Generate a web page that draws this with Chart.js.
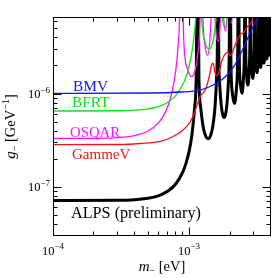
<!DOCTYPE html>
<html><head><meta charset="utf-8">
<style>html,body{margin:0;padding:0;background:#fff;}#wrap{width:274px;height:278px;}</style>
<script src="https://cdn.jsdelivr.net/npm/chart.js@4.4.1/dist/chart.umd.min.js"></script>
</head><body><div id="wrap"><canvas id="c" width="274" height="278"></canvas></div>
<script>
// ---- axis ranges and ticks ----
const massRange = [1e-4, 4e-3];
const couplingRange = [3e-8, 6.7e-6];
const xTickValues = [1e-4,2e-4,3e-4,4e-4,5e-4,6e-4,7e-4,8e-4,9e-4,1e-3,2e-3,3e-3];
const yTickValues = [4e-8,5e-8,6e-8,7e-8,8e-8,9e-8,1e-7,2e-7,3e-7,4e-7,5e-7,6e-7,7e-7,8e-7,9e-7,1e-6,2e-6,3e-6,4e-6,5e-6,6e-6];
const xMajorTicks = [1e-4, 1e-3];
const xMajorLabels = [['10','\u22124'],['10','\u22123']];
const yMajorTicks = [1e-7, 1e-6];
const yMajorLabels = [['10','\u22127'],['10','\u22126']];

// ---- series (mass in eV, coupling in GeV^-1) ----
const bmvMass = [1e-4,5.168e-4,8.588e-4,1.2048e-3,1.427e-3,1.6902e-3,1.9358e-3,2.1424e-3,2.3714e-3,2.5812e-3,2.8093e-3,3.0576e-3,3.3276e-3,3.4996e-3];
const bmvCoupling = [1.0174e-6,1.025e-6,1.0505e-6,1.104e-6,1.2035e-6,1.378e-6,1.6383e-6,1.995e-6,2.618e-6,3.435e-6,4.507e-6,5.768e-6,7.202e-6,8.35e-6];

const bfrtMass = [1e-4,3e-4,5e-4,6e-4,7e-4,8e-4,9e-4,9.5e-4,1e-3,1.05e-3,1.1e-3,1.13e-3,1.173e-3,
  1.2278e-3,1.3139e-3,1.4028e-3,1.4799e-3,1.5497e-3,1.6188e-3,1.6589e-3,
  1.6981e-3,1.7613e-3,1.8394e-3,1.9143e-3,1.9706e-3,2.0317e-3];
const bfrtCoupling = [6.572e-7,6.618e-7,6.943e-7,7.374e-7,8.176e-7,9.662e-7,1.2643e-6,1.535e-6,1.9825e-6,2.829e-6,4.911e-6,8.56e-6,1e-4,
  7.654e-6,3.611e-6,3.025e-6,3.427e-6,5.023e-6,1.331e-5,1e-4,
  1.464e-5,6.489e-6,5.12e-6,7.664e-6,1.97e-5,1e-4];

const osqarMass = [1e-4,2e-4,3e-4,4e-4,5e-4,6e-4,6.5e-4,7e-4,7.5e-4,8e-4,8.3e-4,8.5e-4,8.724e-4,
  9.131e-4,9.772e-4,1.0433e-3,1.1006e-3,1.1525e-3,1.204e-3,1.2338e-3,
  1.2629e-3,1.3099e-3,1.368e-3,1.4237e-3,1.4656e-3,1.5111e-3,
  1.5349e-3,1.5739e-3,1.6321e-3,1.6883e-3,1.7239e-3,1.7448e-3,
  1.7655e-3,1.7995e-3,1.8506e-3,1.9004e-3,1.932e-3,1.9507e-3,
  1.9693e-3,1.9998e-3,2.046e-3,2.0911e-3,2.1199e-3,2.1369e-3];
const osqarCoupling = [3.334e-7,3.349e-7,3.411e-7,3.589e-7,4.008e-7,4.972e-7,5.902e-7,7.493e-7,1.0589e-6,1.8377e-6,3.229e-6,6.27e-6,1e-4,
  3.883e-6,1.8317e-6,1.5346e-6,1.7383e-6,2.548e-6,6.751e-6,1e-4,
  7.428e-6,3.292e-6,2.597e-6,3.888e-6,1.0e-5,1e-4,
  1.097e-5,4.752e-6,3.666e-6,5.468e-6,1.384e-5,1e-4,
  1.4516e-5,6.212e-6,4.713e-6,6.928e-6,1.738e-5,1e-4,
  1.806e-5,7.672e-6,5.761e-6,8.388e-6,2.093e-5,1e-4];

const gammevMass = [1e-4,3.109e-4,4.362e-4,6.122e-4,7.627e-4,9.035e-4,1.0171e-3,1.1069e-3,1.1647e-3,1.225e-3,1.2672e-3,1.3335e-3,1.4031e-3,1.4637e-3,1.5014e-3,1.5531e-3,1.6066e-3,1.6619e-3,1.7482e-3,1.8393e-3,1.9358e-3,2.0023e-3,2.0713e-3,2.179e-3,2.2926e-3,2.4125e-3,2.5376e-3,2.6703e-3,2.8093e-3,2.9554e-3,3.1087e-3,3.2712e-3];
const gammevCoupling = [2.861e-7,2.875e-7,2.947e-7,3.096e-7,3.503e-7,4.112e-7,5.01e-7,6.572e-7,8.209e-7,9.757e-7,1.0249e-6,1.1594e-6,1.5211e-6,2.045e-6,2.149e-6,1.6795e-6,1.5592e-6,1.7642e-6,2.314e-6,2.684e-6,2.82e-6,2.555e-6,2.751e-6,3.35e-6,3.983e-6,4.394e-6,4.618e-6,5.224e-6,5.627e-6,6.365e-6,7.201e-6,8.35e-6];

const alpsMass = [1e-4,3e-4,5e-4,6e-4,7e-4,8e-4,9e-4,9.5e-4,1.0e-3,1.05e-3,1.1e-3,1.13e-3,1.1531e-3,
  1.1818e-3,1.2171e-3,1.2683e-3,1.3173e-3,1.379e-3,1.4401e-3,1.4977e-3,1.5532e-3,1.5936e-3,1.6134e-3,1.6307e-3,
  1.6523e-3,1.684e-3,1.7213e-3,1.7698e-3,1.8082e-3,1.8516e-3,1.8967e-3,1.9408e-3,1.9733e-3,1.9972e-3,
  2.0287e-3,2.0802e-3,2.1573e-3,2.2316e-3,2.2785e-3,2.3062e-3,
  2.3336e-3,2.3785e-3,2.446e-3,2.5119e-3,2.5537e-3,2.5784e-3,
  2.6029e-3,2.6432e-3,2.7043e-3,2.7639e-3,2.8019e-3,2.8245e-3,
  2.8469e-3,2.8838e-3,2.9398e-3,2.9948e-3,3.0299e-3,3.0508e-3,
  3.0716e-3,3.1058e-3,3.1579e-3,3.2091e-3,3.2419e-3,3.2614e-3,
  3.2808e-3,3.3129e-3,3.3618e-3,3.41e-3,3.4409e-3,3.4593e-3,
  3.4776e-3,3.5079e-3,3.5541e-3,3.5997e-3,3.629e-3,3.6464e-3,
  3.6638e-3,3.6925e-3,3.7364e-3,3.7798e-3,3.8077e-3,3.8244e-3,
  3.8409e-3,3.8684e-3,3.9103e-3,3.9518e-3,3.99e-3];
const alpsCoupling = [7.2e-8,7.25e-8,7.64e-8,8.15e-8,9.1e-8,1.091e-7,1.463e-7,1.815e-7,2.424e-7,3.666e-7,7.37e-7,1.747e-6,1e-4,
  1.507e-6,7.18e-7,4.47e-7,3.607e-7,3.314e-7,3.591e-7,4.585e-7,7.45e-7,1.546e-6,3.33e-6,1e-4,
  2.79e-6,1.19e-6,7.67e-7,5.93e-7,5.61e-7,6.01e-7,7.66e-7,1.279e-6,2.97e-6,1e-4,
  2.37e-6,1.026e-6,7.917e-7,1.181e-6,2.989e-6,1e-4,
  3.135e-6,1.3415e-6,1.0179e-6,1.4962e-6,3.754e-6,1e-4,
  3.9e-6,1.6568e-6,1.2441e-6,1.8115e-6,4.52e-6,1e-4,
  4.666e-6,1.972e-6,1.4703e-6,2.127e-6,5.285e-6,1e-4,
  5.431e-6,2.287e-6,1.6964e-6,2.442e-6,6.05e-6,1e-4,
  6.197e-6,2.603e-6,1.9226e-6,2.758e-6,6.816e-6,1e-4,
  6.96e-6,2.918e-6,2.149e-6,3.073e-6,7.58e-6,1e-4,
  7.73e-6,3.233e-6,2.375e-6,3.388e-6,8.35e-6,1e-4,
  8.49e-6,3.549e-6,2.601e-6,3.703e-6,1e-5];

// ---- labels ----
const seriesNames = ['BMV','BFRT','OSQAR','GammeV','ALPS (preliminary)'];
const seriesColors = ['#1414f5','#10e010','#ff10ff','#f51414','#000000'];

const SERIF = '"Liberation Serif","Times New Roman",serif';
function pts(xs, ys){ return xs.map((x,i)=>({x:x, y:ys[i]})); }

function drawRich(ctx, parts, x, y, align){
  let total = 0;
  parts.forEach(p=>{ ctx.font = p[1]; total += ctx.measureText(p[0]).width; });
  let cx = align==='center' ? x-total/2 : (align==='right' ? x-total : x);
  parts.forEach(p=>{ ctx.font = p[1]; ctx.fillText(p[0], cx, y+p[2]); cx += ctx.measureText(p[0]).width; });
}
function isMajor(v){ const l=Math.log10(v); return Math.abs(l-Math.round(l))<1e-9; }

const decorPlugin = {
  id:'decor',
  afterDraw(chart){
    const ctx = chart.ctx, a = chart.chartArea, xs = chart.scales.x, ys = chart.scales.y;
    ctx.save();
    ctx.strokeStyle = '#000'; ctx.lineWidth = 1;
    ctx.strokeRect(a.left+0.5, a.top+0.5, a.right-a.left-1, a.bottom-a.top-1);
    ctx.beginPath();
    xTickValues.forEach(v=>{
      const px = Math.floor(xs.getPixelForValue(v))+0.5;
      const len = isMajor(v) ? 8 : 4;
      ctx.moveTo(px, a.bottom-0.5); ctx.lineTo(px, a.bottom-0.5-len);
      ctx.moveTo(px, a.top+0.5); ctx.lineTo(px, a.top+0.5+len);
    });
    yTickValues.forEach(v=>{
      const py = Math.floor(ys.getPixelForValue(v))+0.5;
      const len = isMajor(v) ? 8 : 4;
      ctx.moveTo(a.left+0.5, py); ctx.lineTo(a.left+0.5+len, py);
      ctx.moveTo(a.right-0.5, py); ctx.lineTo(a.right-0.5-len, py);
    });
    ctx.stroke();

    ctx.fillStyle = '#000'; ctx.textBaseline = 'alphabetic'; ctx.textAlign = 'left';
    xMajorTicks.forEach((v,i)=>{
      const px = xs.getPixelForValue(v);
      drawRich(ctx, [[xMajorLabels[i][0], '12.5px '+SERIF, 0],[xMajorLabels[i][1], '9px '+SERIF, -5.5]], px, 254.5, 'center');
    });
    yMajorTicks.forEach((v,i)=>{
      const py = ys.getPixelForValue(v);
      drawRich(ctx, [[yMajorLabels[i][0], '12.5px '+SERIF, 0],[yMajorLabels[i][1], '9px '+SERIF, -5.5]], 50, py+4, 'right');
    });

    // axis titles
    drawRich(ctx, [['m','italic 15px '+SERIF,0],['\u2212','10px '+SERIF,3],[' [eV]','14.5px '+SERIF,0]], (a.left+a.right)/2, 271, 'center');
    ctx.save();
    ctx.translate(14.5, (a.top+a.bottom)/2);
    ctx.rotate(-Math.PI/2);
    drawRich(ctx, [['g','italic 15px '+SERIF,0],['\u2212','10px '+SERIF,3],[' [GeV','14.5px '+SERIF,0],['\u22121','10px '+SERIF,-6],[']','14.5px '+SERIF,0]], 0, 0, 'center');
    ctx.restore();

    // in-plot labels
    const labelPos = [[73,91,15.4],[72,107,15.3],[70,136.5,14.8],[72,158.5,15],[71,218,16.2]];
    seriesNames.forEach((n,i)=>{
      ctx.fillStyle = seriesColors[i];
      ctx.font = labelPos[i][2]+'px '+SERIF;
      ctx.fillText(n, labelPos[i][0], labelPos[i][1]);
    });
    ctx.restore();
  }
};

const common = {pointRadius:0, fill:false, cubicInterpolationMode:'monotone'};
new Chart(document.getElementById('c'), {
  type:'line',
  data:{ datasets:[
    Object.assign({data:pts(bmvMass,bmvCoupling), borderColor:seriesColors[0], borderWidth:1.3}, common),
    Object.assign({data:pts(bfrtMass,bfrtCoupling), borderColor:seriesColors[1], borderWidth:1.3}, common),
    Object.assign({data:pts(osqarMass,osqarCoupling), borderColor:seriesColors[2], borderWidth:1.3}, common),
    Object.assign({data:pts(gammevMass,gammevCoupling), borderColor:seriesColors[3], borderWidth:1.3}, common),
    Object.assign({data:pts(alpsMass,alpsCoupling), borderColor:seriesColors[4], borderWidth:3}, common)
  ]},
  options:{
    responsive:false, animation:false, devicePixelRatio:1,
    layout:{padding:{top:17,right:3,left:0,bottom:0}},
    elements:{line:{capBezierPoints:false}},
    plugins:{legend:{display:false}, tooltip:{enabled:false}},
    scales:{
      x:{type:'logarithmic', min:massRange[0], max:massRange[1],
         ticks:{display:false}, grid:{display:false}, border:{display:false},
         afterFit:s=>{ s.height = 42; }},
      y:{type:'logarithmic', min:couplingRange[0], max:couplingRange[1],
         ticks:{display:false}, grid:{display:false}, border:{display:false},
         afterFit:s=>{ s.width = 53; }}
    }
  },
  plugins:[decorPlugin]
});
</script></body></html>
